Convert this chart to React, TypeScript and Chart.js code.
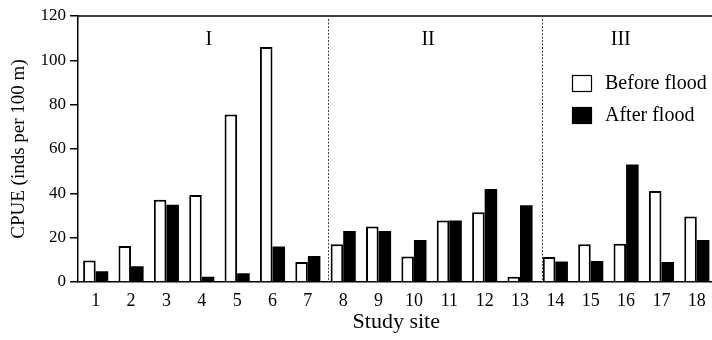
import React, { useEffect, useRef } from "react";
import { Chart, registerables } from "chart.js";

Chart.register(...registerables);

const sites = ["1","2","3","4","5","6","7","8","9","10","11","12","13","14","15","16","17","18"];
const beforeFlood = [9.7, 16.2, 37.1, 39.2, 75.6, 106, 9, 17, 25, 11.5, 27.8, 31.5, 2.4, 11.3, 17, 17.3, 41, 29.5];
const afterFlood = [4.8, 7.1, 34.9, 2.4, 3.9, 16, 11.7, 23, 23, 19, 27.8, 42, 34.6, 9.2, 9.5, 53, 9, 19];
const seriesNames = ["Before flood", "After flood"];
const yTickValues = [0, 20, 40, 60, 80, 100, 120];
const groupLabels = ["I", "II", "III"];
const groupLabelPositions = [3.2, 9.4, 14.85];
const dividerPositions = [6.57, 12.62];

const FONT = "'Liberation Serif', 'Times New Roman', serif";

const decorPlugin = {
  id: "decor",
  afterDatasetsDraw(chart: any) {
    const { ctx, chartArea, scales } = chart;
    const x = scales.x;
    ctx.save();
    // top border
    ctx.strokeStyle = "#000";
    ctx.lineWidth = 1.5;
    ctx.beginPath();
    ctx.moveTo(chartArea.left, chartArea.top);
    ctx.lineTo(chartArea.right, chartArea.top);
    ctx.stroke();
    // dotted dividers
    ctx.strokeStyle = "#444";
    ctx.lineWidth = 1;
    ctx.setLineDash([2, 1.5]);
    dividerPositions.forEach((p) => {
      const px = Math.round(x.getPixelForValue(p)) + 0.5;
      ctx.beginPath();
      ctx.moveTo(px, chartArea.top + 3);
      ctx.lineTo(px, chartArea.bottom);
      ctx.stroke();
    });
    ctx.setLineDash([]);
    // group labels
    ctx.fillStyle = "#000";
    ctx.font = `20px ${FONT}`;
    ctx.textAlign = "center";
    ctx.textBaseline = "middle";
    groupLabels.forEach((g, i) => {
      ctx.fillText(g, x.getPixelForValue(groupLabelPositions[i]), chartArea.top + 24);
    });
    // legend
    const bx = chartArea.right - 142.5;
    const rows = [
      { top: chartArea.top + 59, fill: "#fff" },
      { top: chartArea.top + 91, fill: "#000" },
    ];
    ctx.textAlign = "left";
    rows.forEach((r, i) => {
      ctx.fillStyle = r.fill;
      ctx.fillRect(bx, r.top, 20, 17);
      ctx.strokeStyle = "#000";
      ctx.lineWidth = 1.2;
      ctx.strokeRect(bx + 0.5, r.top + 0.5, 19, 16);
      ctx.fillStyle = "#000";
      ctx.fillText(seriesNames[i], bx + 33, r.top + 9);
    });
    ctx.restore();
  },
};

export default function App() {
  const ref = useRef<HTMLCanvasElement | null>(null);
  useEffect(() => {
    if (!ref.current) return;
    const chart = new Chart(ref.current, {
      type: "bar",
      data: {
        labels: sites,
        datasets: [
          {
            label: seriesNames[0],
            data: beforeFlood,
            backgroundColor: "#fff",
            borderColor: "#000",
            borderWidth: 2,
            categoryPercentage: 0.71,
            barPercentage: 1,
          },
          {
            label: seriesNames[1],
            data: afterFlood,
            backgroundColor: "#000",
            borderColor: "#000",
            borderWidth: 0,
            categoryPercentage: 0.71,
            barPercentage: 1,
          },
        ],
      },
      options: {
        responsive: false,
        animation: false,
        layout: { padding: { top: 16, left: 0, right: 5.5, bottom: 0 } },
        plugins: { legend: { display: false }, tooltip: { enabled: false } },
        scales: {
          x: {
            grid: { display: false, drawTicks: false },
            border: { display: true, color: "#000", width: 1.5 },
            ticks: { color: "#000", font: { family: FONT, size: 18 }, padding: 8, maxRotation: 0, autoSkip: false },
            title: {
              display: true,
              text: "Study site",
              color: "#000",
              font: { family: FONT, size: 22 },
              padding: { top: 0, bottom: 5 },
            },
            afterFit: (s: any) => {
              s.height = 58;
            },
          },
          y: {
            min: 0,
            max: 120,
            afterBuildTicks: (s: any) => {
              s.ticks = yTickValues.map((v) => ({ value: v }));
            },
            grid: { display: true, drawOnChartArea: false, drawTicks: true, tickLength: 8, color: "#000", lineWidth: 1.5 },
            border: { display: true, color: "#000", width: 1.5 },
            ticks: { color: "#000", font: { family: FONT, size: 17 }, padding: 4 },
            title: {
              display: true,
              text: "CPUE (inds per 100 m)",
              color: "#000",
              font: { family: FONT, size: 19 },
              padding: { top: 8, bottom: 0 },
            },
            afterFit: (s: any) => {
              s.width = 78;
            },
          },
        },
      },
      plugins: [decorPlugin],
    });
    return () => chart.destroy();
  }, []);
  return (
    <div style={{ position: "absolute", left: 0, top: 0, width: 712, height: 340, overflow: "hidden", background: "#fff" }}>
      <canvas ref={ref} width={720} height={340} style={{ display: "block" }} />
    </div>
  );
}
